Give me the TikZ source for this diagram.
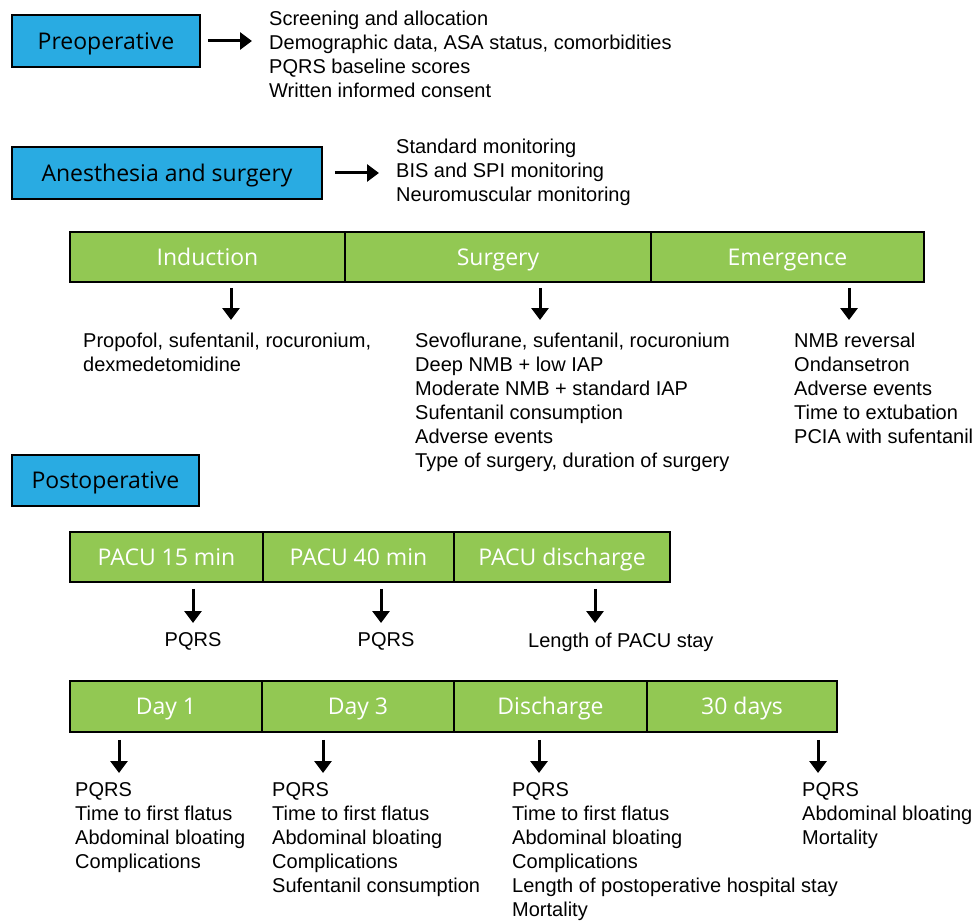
\documentclass[tikz,border=0pt]{standalone}
\usepackage{fontspec}
\setmainfont{Liberation Sans}
\newfontfamily\boxfont{Open Sans}
\usetikzlibrary{arrows.meta}
\definecolor{pblue}{RGB}{41,171,226}
\definecolor{pgreen}{RGB}{146,200,83}
\tikzset{
  phase/.style={draw=black, line width=1.6pt, fill=pblue, inner sep=0pt,
    font=\boxfont\fontsize{23}{27}\selectfont, text height=16.4pt, text depth=0pt},
  cell/.style={draw=black, line width=1.6pt, fill=pgreen, text=white, inner sep=0pt,
    font=\boxfont\fontsize{23}{27}\selectfont, text height=16.4pt, text depth=0pt},
  items/.style={align=left, anchor=north west, inner sep=0pt,
    font=\fontsize{20}{24}\selectfont},
  item/.style={anchor=north, inner sep=0pt, font=\fontsize{20}{24}\selectfont},
  harr/.style={line width=3pt, -{Triangle[length=12pt,width=17pt]}},
  varr/.style={line width=3pt, -{Triangle[length=12pt,width=17pt]}},
}
\begin{document}
\begin{tikzpicture}[x=1pt,y=-1pt]
\useasboundingbox[fill=white] (0,0) rectangle (976,920);

% phase boxes
\node[phase, minimum width=188pt, minimum height=52pt] (pre) at (106,41) {Preoperative};
\node[phase, minimum width=310pt, minimum height=52pt] (ane) at (167,173) {Anesthesia and surgery};
\node[phase, minimum width=187pt, minimum height=51pt] (post) at (105.5,480.5) {Postoperative};

% side lists
\node[items] (prelist) at (269,10.5) {Screening and allocation\\Demographic data, ASA status, comorbidities\\PQRS baseline scores\\Written informed consent};
\node[items] (anelist) at (396,138.5) {Standard monitoring\\BIS and SPI monitoring\\Neuromuscular monitoring};
\draw[harr] ([xshift=7pt]pre.east) -- ([xshift=-17pt]pre.east -| prelist.west);
\draw[harr] ([xshift=12pt]ane.east) -- ([xshift=-17pt]ane.east -| anelist.west);

% bar 1
\node[cell, minimum width=275pt, minimum height=50pt] (ind) at (207.5,257) {Induction};
\node[cell, minimum width=306pt, minimum height=50pt] (sur) at (498,257) {Surgery};
\node[cell, minimum width=273pt, minimum height=50pt] (eme) at (787.5,257) {Emergence};

\node[items] (indlist) at (83,332.5) {Propofol, sufentanil, rocuronium,\\dexmedetomidine};
\node[items] (surlist) at (415,332.5) {Sevoflurane, sufentanil, rocuronium\\Deep NMB + low IAP\\Moderate NMB + standard IAP\\Sufentanil consumption\\Adverse events\\Type of surgery, duration of surgery};
\node[items] (emelist) at (794,332.5) {NMB reversal\\Ondansetron\\Adverse events\\Time to extubation\\PCIA with sufentanil};

\coordinate (x1) at (231,0);
\coordinate (x2) at (540,0);
\coordinate (x3) at (849,0);
\draw[varr] ([yshift=-5pt]ind.south -| x1) -- ([yshift=12.5pt]indlist.north -| x1);
\draw[varr] ([yshift=-5pt]sur.south -| x2) -- ([yshift=12.5pt]surlist.north -| x2);
\draw[varr] ([yshift=-5pt]eme.south -| x3) -- ([yshift=12.5pt]emelist.north -| x3);

% bar 2
\node[cell, minimum width=193pt, minimum height=50pt] (p15) at (166.5,557) {PACU 15 min};
\node[cell, minimum width=191pt, minimum height=50pt] (p40) at (358.5,557) {PACU 40 min};
\node[cell, minimum width=216pt, minimum height=50pt] (pdis) at (562,557) {PACU discharge};

\node[item] (q15) at (193,632.5) {PQRS};
\node[item] (q40) at (386,632.5) {PQRS};
\node[items] (qdis) at (528,632.5) {Length of PACU stay};

\coordinate (y1) at (193,0);
\coordinate (y2) at (381,0);
\coordinate (y3) at (595,0);
\draw[varr] ([yshift=-6pt]p15.south -| y1) -- ([yshift=9.5pt]q15.north -| y1);
\draw[varr] ([yshift=-6pt]p40.south -| y2) -- ([yshift=9.5pt]q40.north -| y2);
\draw[varr] ([yshift=-6pt]pdis.south -| y3) -- ([yshift=9.5pt]qdis.north -| y3);

% bar 3
\node[cell, minimum width=192pt, minimum height=51pt] (d1) at (166,706.5) {Day 1};
\node[cell, minimum width=192pt, minimum height=51pt] (d3) at (358,706.5) {Day 3};
\node[cell, minimum width=193pt, minimum height=51pt] (dis) at (550.5,706.5) {Discharge};
\node[cell, minimum width=190pt, minimum height=51pt] (d30) at (742,706.5) {30 days};

\node[items] (d1list) at (75,782.5) {PQRS\\Time to first flatus\\Abdominal bloating\\Complications};
\node[items] (d3list) at (272,782.5) {PQRS\\Time to first flatus\\Abdominal bloating\\Complications\\Sufentanil consumption};
\node[items] (dislist) at (512,782.5) {PQRS\\Time to first flatus\\Abdominal bloating\\Complications\\Length of postoperative hospital stay\\Mortality};
\node[items] (d30list) at (802,782.5) {PQRS\\Abdominal bloating\\Mortality};

\coordinate (z1) at (119,0);
\coordinate (z2) at (323,0);
\coordinate (z3) at (539,0);
\coordinate (z4) at (818,0);
\draw[varr] ([yshift=-7pt]d1.south -| z1) -- ([yshift=9.5pt]d1list.north -| z1);
\draw[varr] ([yshift=-7pt]d3.south -| z2) -- ([yshift=9.5pt]d3list.north -| z2);
\draw[varr] ([yshift=-7pt]dis.south -| z3) -- ([yshift=9.5pt]dislist.north -| z3);
\draw[varr] ([yshift=-7pt]d30.south -| z4) -- ([yshift=9.5pt]d30list.north -| z4);
\end{tikzpicture}
\end{document}
